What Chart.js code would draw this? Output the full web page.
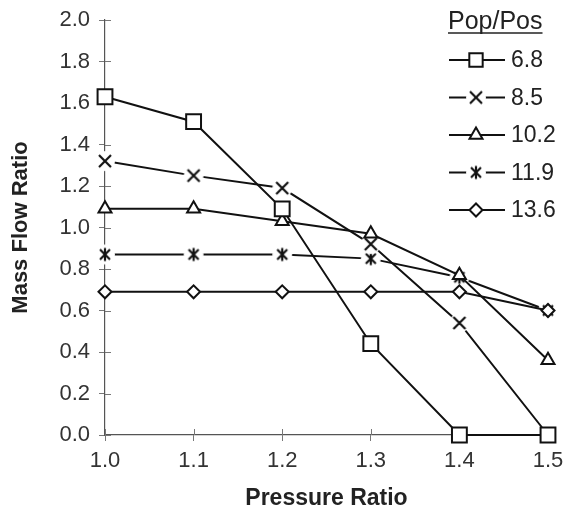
<!DOCTYPE html>
<html><head><meta charset="utf-8">
<script src="https://cdn.jsdelivr.net/npm/chart.js@4/dist/chart.umd.min.js"></script>
<style>html,body{margin:0;padding:0;background:#fff}#wrap{width:568px;height:514px}</style>
</head><body><div id="wrap"><canvas id="c" width="568" height="514"></canvas></div>
<script>
const pressureRatio = [1.0, 1.1, 1.2, 1.3, 1.4, 1.5];
const seriesLabels = ['6.8', '8.5', '10.2', '11.9', '13.6'];
const flow68 = [1.63, 1.51, 1.09, 0.44, 0.0, 0.0];
const flow85 = [1.32, 1.25, 1.19, 0.92, 0.54, 0.0];
const flow102 = [1.09, 1.09, 1.03, 0.97, 0.77, 0.36];
const flow119 = [0.87, 0.87, 0.87, 0.85, 0.76, 0.60];
const flow136 = [0.69, 0.69, 0.69, 0.69, 0.69, 0.60];
const yTicks = [0, 0.2, 0.4, 0.6, 0.8, 1.0, 1.2, 1.4, 1.6, 1.8, 2.0];
const legendTitle = 'Pop/Pos';

const FONT = '"Liberation Sans", Arial, sans-serif';

function glyph(kind) {
  const c = document.createElement('canvas');
  c.width = 22; c.height = 22;
  const g = c.getContext('2d');
  g.fillStyle = '#fff';
  g.beginPath(); g.arc(11, 11, 10, 0, Math.PI * 2); g.fill();
  g.strokeStyle = '#111'; g.lineWidth = 2.2;
  g.beginPath();
  if (kind === 'x') {
    g.moveTo(5, 5); g.lineTo(17, 17);
    g.moveTo(17, 5); g.lineTo(5, 17);
  } else {
    g.moveTo(6, 6); g.lineTo(16, 16);
    g.moveTo(16, 6); g.lineTo(6, 16);
    g.moveTo(11, 4.5); g.lineTo(11, 17.5);
  }
  g.stroke();
  return c;
}
const crossImg = glyph('x');
const starImg = glyph('star');

const styles = [
  {pointStyle: 'rect', pointRadius: 10.5, order: 1},
  {pointStyle: crossImg, pointRadius: 10, order: 10},
  {pointStyle: 'triangle', pointRadius: 7.5, order: 2},
  {pointStyle: starImg, pointRadius: 10, order: 11},
  {pointStyle: 'rectRot', pointRadius: 6.5, order: 3}
];
const allSeries = [flow68, flow85, flow102, flow119, flow136];

const datasets = allSeries.map((arr, i) => ({
  label: seriesLabels[i],
  data: arr.map((v, j) => ({x: pressureRatio[j], y: v})),
  borderColor: '#111',
  borderWidth: 2,
  backgroundColor: '#fff',
  pointBackgroundColor: '#fff',
  pointBorderColor: '#111',
  pointBorderWidth: 2,
  pointStyle: styles[i].pointStyle,
  pointRadius: styles[i].pointRadius,
  order: styles[i].order,
  tension: 0,
  clip: false
}));

const innerTicks = {
  id: 'innerTicks',
  beforeDatasetsDraw(chart) {
    const {ctx, chartArea, scales} = chart;
    ctx.save();
    ctx.strokeStyle = '#777'; ctx.lineWidth = 1;
    scales.y.ticks.forEach(t => {
      const y = Math.round(scales.y.getPixelForValue(t.value)) + 0.5;
      ctx.beginPath(); ctx.moveTo(chartArea.left, y); ctx.lineTo(chartArea.left + 6, y); ctx.stroke();
    });
    scales.x.ticks.forEach(t => {
      const x = Math.round(scales.x.getPixelForValue(t.value)) + 0.5;
      ctx.beginPath(); ctx.moveTo(x, chartArea.bottom); ctx.lineTo(x, chartArea.bottom - 6); ctx.stroke();
    });
    ctx.restore();
  }
};

const customLegend = {
  id: 'customLegend',
  afterDraw(chart) {
    const ctx = chart.ctx;
    ctx.save();
    ctx.fillStyle = '#222';
    ctx.font = '25px ' + FONT;
    ctx.textBaseline = 'middle';
    ctx.textAlign = 'left';
    const tx = 448, ty = 22;
    ctx.fillText(legendTitle, tx, ty);
    const w = ctx.measureText(legendTitle).width;
    ctx.strokeStyle = '#222'; ctx.lineWidth = 1.5;
    ctx.beginPath(); ctx.moveTo(tx, ty + 11); ctx.lineTo(tx + w, ty + 11); ctx.stroke();
    ctx.font = '23px ' + FONT;
    chart.data.datasets.forEach((ds, i) => {
      const y = 60 + i * 37.5;
      ctx.strokeStyle = '#111'; ctx.lineWidth = 2;
      ctx.beginPath(); ctx.moveTo(449, y); ctx.lineTo(505, y); ctx.stroke();
      ctx.fillStyle = '#fff';
      ctx.lineWidth = 2;
      const r = typeof ds.pointStyle === 'string' ? ds.pointStyle === 'rect' ? ds.pointRadius * 0.9 : ds.pointRadius : ds.pointRadius;
      Chart.helpers.drawPoint(ctx, {pointStyle: ds.pointStyle, radius: r, borderWidth: 2, rotation: 0}, 476, y);
      ctx.fillStyle = '#222';
      ctx.fillText(ds.label, 511, y + 1);
    });
    ctx.restore();
  }
};

new Chart(document.getElementById('c'), {
  type: 'line',
  data: {datasets},
  options: {
    responsive: false,
    animation: false,
    layout: {padding: {left: 0, right: 20, top: 20, bottom: 0}},
    plugins: {legend: {display: false}, tooltip: {enabled: false}},
    scales: {
      x: {
        type: 'linear', min: 1.0, max: 1.5,
        afterBuildTicks: s => { s.ticks = pressureRatio.map(v => ({value: v})); },
        afterFit: s => { s.height = 79; s.paddingLeft = 0; s.paddingRight = 0; },
        ticks: {callback: v => v.toFixed(1), color: '#333', padding: 7,
          font: {family: FONT, size: 22}},
        grid: {drawOnChartArea: false, tickLength: 6, color: '#777'},
        border: {color: '#555', width: 1.2},
        title: {display: true, text: 'Pressure Ratio', color: '#222', padding: {top: 4, bottom: 2},
          font: {family: FONT, size: 23, weight: 'bold'}}
      },
      y: {
        min: 0, max: 2.0,
        afterBuildTicks: s => { s.ticks = yTicks.map(v => ({value: v})); },
        afterFit: s => { s.width = 105; s.paddingTop = 0; s.paddingBottom = 0; },
        ticks: {callback: v => v.toFixed(1), color: '#333', padding: 9,
          font: {family: FONT, size: 22}},
        grid: {drawOnChartArea: false, tickLength: 6, color: '#777'},
        border: {color: '#555', width: 1.2},
        title: {display: true, text: 'Mass Flow Ratio', color: '#222', padding: {top: 8, bottom: 4},
          font: {family: FONT, size: 22, weight: 'bold'}}
      }
    }
  },
  plugins: [innerTicks, customLegend]
});
</script></body></html>
